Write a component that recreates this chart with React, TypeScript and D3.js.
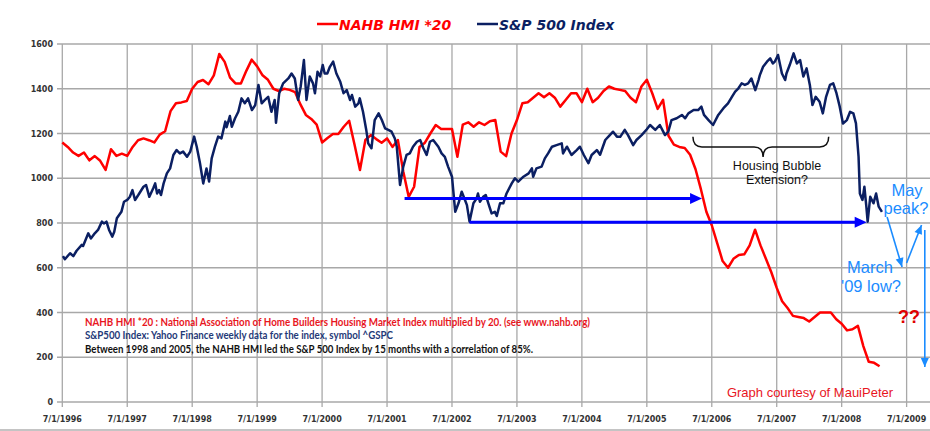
import * as d3 from 'd3'
import React from 'react'

// NAHB HMI * 20, monthly from July 1996
const nahbStartYear = 1996.5
const nahbValues = [
  1160, 1140, 1115, 1100, 1115, 1080, 1099, 1078, 1037, 1130,
  1100, 1110, 1100, 1140, 1170, 1178, 1170, 1160, 1195, 1210,
  1300, 1335, 1339, 1345, 1400, 1430, 1439, 1420, 1460, 1555,
  1520, 1450, 1424, 1424, 1480, 1530, 1500, 1460, 1440, 1400,
  1390, 1400, 1395, 1385, 1330, 1283, 1265, 1240, 1160, 1180,
  1198, 1198, 1230, 1257, 1150, 1037, 1171, 1193, 1175, 1159,
  1178, 1140, 1171, 1030, 917, 962, 1140, 1159, 1200, 1238,
  1220, 1220, 1220, 1096, 1240, 1250, 1230, 1250, 1238, 1255,
  1260, 1119, 1099, 1200, 1260, 1335, 1340, 1360, 1380, 1362,
  1380, 1360, 1320, 1350, 1380, 1380, 1340, 1400, 1340, 1360,
  1390, 1410, 1400, 1395, 1390, 1360, 1340, 1410, 1440, 1380,
  1310, 1350, 1190, 1150, 1140, 1135, 1105, 1040, 950, 850,
  790, 710, 630, 600, 640, 657, 660, 700, 770, 700,
  640, 580, 510, 450, 420, 385, 380, 375, 360, 380,
  400, 400, 400, 370, 350, 320, 325, 340, 250, 180,
  175, 160,
]

// S&P 500 weekly closes (decimal years)
const spxYears = [
  1996.51, 1996.54, 1996.62, 1996.67, 1996.72, 1996.80, 1996.82, 1996.90, 1996.94, 1997.00,
  1997.05, 1997.11, 1997.14, 1997.18, 1997.22, 1997.27, 1997.30, 1997.34, 1997.41, 1997.45,
  1997.50, 1997.54, 1997.58, 1997.62, 1997.67, 1997.75, 1997.79, 1997.84, 1997.90, 1997.93,
  1997.96, 1997.99, 1998.02, 1998.06, 1998.11, 1998.16, 1998.21, 1998.26, 1998.31, 1998.36,
  1998.42, 1998.47, 1998.53, 1998.57, 1998.62, 1998.67, 1998.72, 1998.76, 1998.80, 1998.85,
  1998.90, 1998.95, 1999.01, 1999.03, 1999.08, 1999.11, 1999.16, 1999.21, 1999.26, 1999.31,
  1999.36, 1999.42, 1999.47, 1999.52, 1999.57, 1999.62, 1999.67, 1999.72, 1999.77, 1999.79,
  1999.84, 1999.90, 1999.98, 2000.03, 2000.08, 2000.13, 2000.17, 2000.22, 2000.26, 2000.31,
  2000.36, 2000.39, 2000.43, 2000.47, 2000.51, 2000.54, 2000.58, 2000.62, 2000.67, 2000.72,
  2000.78, 2000.83, 2000.88, 2000.93, 2000.96, 2001.01, 2001.06, 2001.08, 2001.13, 2001.18,
  2001.21, 2001.26, 2001.31, 2001.37, 2001.42, 2001.47, 2001.52, 2001.57, 2001.62, 2001.65,
  2001.70, 2001.75, 2001.80, 2001.85, 2001.90, 2001.96, 2002.01, 2002.06, 2002.11, 2002.16,
  2002.21, 2002.29, 2002.34, 2002.39, 2002.44, 2002.50, 2002.55, 2002.60, 2002.65, 2002.70,
  2002.73, 2002.77, 2002.83, 2002.88, 2002.90, 2002.93, 2002.98, 2003.02, 2003.06, 2003.11,
  2003.16, 2003.19, 2003.24, 2003.29, 2003.34, 2003.42, 2003.47, 2003.52, 2003.60, 2003.68,
  2003.73, 2003.75, 2003.80, 2003.88, 2003.93, 2003.98, 2004.04, 2004.11, 2004.19, 2004.21,
  2004.27, 2004.34, 2004.42, 2004.47, 2004.53, 2004.60, 2004.65, 2004.73, 2004.78, 2004.86,
  2004.93, 2004.98, 2005.04, 2005.09, 2005.16, 2005.21, 2005.29, 2005.34, 2005.42, 2005.50,
  2005.55, 2005.63, 2005.70, 2005.78, 2005.83, 2005.88, 2005.96, 2006.04, 2006.09, 2006.14,
  2006.22, 2006.29, 2006.34, 2006.38, 2006.45, 2006.52, 2006.60, 2006.68, 2006.75, 2006.81,
  2006.86, 2006.91, 2006.96, 2007.01, 2007.06, 2007.11, 2007.17, 2007.22, 2007.24, 2007.29,
  2007.35, 2007.40, 2007.44, 2007.47, 2007.52, 2007.58, 2007.63, 2007.65, 2007.70, 2007.76,
  2007.81, 2007.86, 2007.91, 2007.96, 2008.01, 2008.05, 2008.10, 2008.16, 2008.21, 2008.26,
  2008.32, 2008.37, 2008.42, 2008.47, 2008.52, 2008.58, 2008.63, 2008.68, 2008.72, 2008.76,
  2008.78, 2008.82, 2008.85, 2008.88, 2008.90, 2008.94, 2008.99, 2009.03, 2009.07, 2009.12,
]
const spxValues = [
  652, 638, 665, 652, 676, 702, 697, 754, 731, 754,
  769, 806, 798, 806, 769, 739, 761, 821, 850, 895,
  903, 917, 947, 903, 925, 962, 970, 917, 955, 977,
  932, 947, 925, 977, 1022, 1044, 1104, 1126, 1111, 1119,
  1096, 1119, 1186, 1141, 1067, 977, 1044, 985, 1089, 1141,
  1186, 1178, 1253, 1228, 1278, 1230, 1268, 1297, 1357, 1335,
  1357, 1305, 1327, 1417, 1335, 1350, 1364, 1297, 1350, 1248,
  1380, 1424, 1446, 1468, 1446, 1350, 1409, 1528, 1350, 1455,
  1424, 1380, 1476, 1455, 1506, 1468, 1468, 1498, 1521, 1468,
  1431, 1380, 1394, 1350, 1372, 1320, 1335, 1357, 1297, 1216,
  1156, 1134, 1260, 1290, 1260, 1223, 1216, 1208, 1178, 1141,
  970, 1052, 1104, 1111, 1141, 1163, 1171, 1134, 1104, 1163,
  1171, 1141, 1111, 1096, 1052, 1007, 850, 888, 940, 903,
  880, 806, 888, 910, 932, 895, 917, 925, 888, 843,
  850, 831, 888, 888, 932, 977, 1000, 985, 1007, 1022,
  1044, 1007, 1044, 1052, 1089, 1111, 1141, 1148, 1156, 1111,
  1141, 1104, 1126, 1141, 1104, 1067, 1104, 1126, 1105, 1171,
  1193, 1208, 1186, 1185, 1216, 1193, 1148, 1171, 1193, 1219,
  1238, 1216, 1238, 1193, 1208, 1260, 1268, 1283, 1268, 1290,
  1305, 1305, 1320, 1283, 1260, 1238, 1283, 1313, 1335, 1364,
  1387, 1402, 1424, 1417, 1424, 1446, 1394, 1439, 1461, 1498,
  1521, 1536, 1513, 1521, 1551, 1468, 1439, 1468, 1506, 1558,
  1513, 1528, 1455, 1491, 1417, 1327, 1364, 1342, 1290, 1364,
  1417, 1424, 1380, 1320, 1245, 1260, 1297, 1290, 1245, 1096,
  932, 903, 962, 873, 806, 917, 888, 932, 873, 850,
]

const yTicks = [0, 200, 400, 600, 800, 1000, 1200, 1400, 1600]
const xTickYears = [1996, 1997, 1998, 1999, 2000, 2001, 2002, 2003, 2004, 2005, 2006, 2007, 2008, 2009]

// horizontal "support" arrows: [startYear, endYear, level]
const supportArrows = [
  [2001.77, 2006.35, 910],
  [2002.77, 2008.885, 803],
]
// forecast arrows (light blue): [x1, y1, x2, y2] in data units
const forecastArrows = [
  [2009.2, 827, 2009.43, 603],
  [2009.5, 621, 2009.73, 791],
  [2009.78, 769, 2009.78, 156],
]

const notes = [
  { text: 'NAHB HMI *20 : National Association of Home Builders Housing Market Index multiplied by 20. (see www.nahb.org)', color: '#e8161e', y: 326, w: 505 },
  { text: 'S&P500 Index: Yahoo Finance weekly data for the index, symbol ^GSPC', color: '#1f3a78', y: 338.5, w: 308 },
  { text: 'Between 1998 and 2005, the NAHB HMI led the S&P 500 Index by 15 months with a correlation of 85%.', color: '#111', y: 353, w: 448 },
]

const RED = '#ff0000'
const NAVY = '#0b1f62'
const LBLUE = '#1b8cff'
const GRID = '#a8a8a8'

const App: React.FC = () => {
  const width = 930
  const height = 431
  const x = d3.scaleLinear().domain([1996.5, 2009.86]).range([62.3, 930])
  const y = d3.scaleLinear().domain([0, 1600]).range([402, 44])

  const nahb = nahbValues.map((v, i) => [nahbStartYear + i / 12, v] as [number, number])
  const spx = spxYears.map((t, i) => [t, spxValues[i]] as [number, number])
  const line = d3.line<[number, number]>().x(d => x(d[0])).y(d => y(d[1]))

  const headPts = (x1: number, y1: number, x2: number, y2: number, len: number, half: number) => {
    const a = Math.atan2(y2 - y1, x2 - x1)
    const bx = x2 - len * Math.cos(a)
    const by = y2 - len * Math.sin(a)
    const px = -Math.sin(a) * half
    const py = Math.cos(a) * half
    return `${x2},${y2} ${bx + px},${by + py} ${bx - px},${by - py}`
  }

  const braceL = x(2006.21), braceR = x(2008.30), braceM = x(2007.29)
  const bTop = y(1185), bMid = y(1140), bTip = y(1095)

  return (
    <svg width={width} height={height} style={{ position: 'absolute', left: 0, top: 0, background: '#fff' }}
      fontFamily="'DejaVu Sans', Verdana, sans-serif">
      {/* grid */}
      {yTicks.map(t => (
        <g key={'y' + t}>
          <line x1={57} x2={width} y1={y(t)} y2={y(t)} stroke={GRID} strokeWidth={1.3} />
          <text x={53} y={y(t) + 3} textAnchor="end" fontSize={8} fontWeight="bold" fill="#333">{t}</text>
        </g>
      ))}
      {xTickYears.map(yr => (
        <g key={'x' + yr}>
          <line x1={x(yr + 0.5)} x2={x(yr + 0.5)} y1={y(1600)} y2={y(0) + 5} stroke={GRID} strokeWidth={1.3} />
          <text x={x(yr + 0.5)} y={422} textAnchor="middle" fontSize={8} fontWeight="bold" fill="#333">{`7/1/${yr}`}</text>
        </g>
      ))}
      <line x1={0} x2={width} y1={430} y2={430} stroke="#b0b0b0" strokeWidth={1.3} />

      {/* series */}
      <path d={line(nahb) || ''} fill="none" stroke={RED} strokeWidth={2.5} strokeLinejoin="round" />
      <path d={line(spx) || ''} fill="none" stroke={NAVY} strokeWidth={2.5} strokeLinejoin="round" />

      {/* support arrows */}
      {supportArrows.map(([a, b, v], i) => (
        <g key={'sa' + i}>
          <line x1={x(a)} x2={x(b) - 8} y1={y(v)} y2={y(v)} stroke="#0000ff" strokeWidth={3} />
          <polygon points={headPts(x(a), y(v), x(b), y(v), 12, 5.5)} fill="#0000ff" />
        </g>
      ))}

      {/* housing bubble brace */}
      <path d={`M${braceL},${bTop} Q${braceL},${bMid} ${braceL + 9},${bMid} L${braceM - 9},${bMid} Q${braceM},${bMid} ${braceM},${bTip} Q${braceM},${bMid} ${braceM + 9},${bMid} L${braceR - 9},${bMid} Q${braceR},${bMid} ${braceR},${bTop}`}
        fill="none" stroke="#111" strokeWidth={1.5} />
      <text x={777} y={169.5} textAnchor="middle" fontFamily="'Liberation Sans', Arial, sans-serif" fontSize={12.5} fill="#111">Housing Bubble</text>
      <text x={777} y={184} textAnchor="middle" fontFamily="'Liberation Sans', Arial, sans-serif" fontSize={12.5} fill="#111">Extension?</text>

      {/* forecast annotations */}
      {forecastArrows.map(([a, b, c, d], i) => (
        <g key={'fa' + i}>
          <line x1={x(a)} y1={y(b)} x2={x(c)} y2={y(d)} stroke={LBLUE} strokeWidth={1.6} />
          <polygon points={headPts(x(a), y(b), x(c), y(d), 9, 4)} fill={LBLUE} />
        </g>
      ))}
      <g fontFamily="'Liberation Sans', Arial, sans-serif" fontSize={16.5} fill={LBLUE} textAnchor="middle">
        <text x={907} y={196}>May</text>
        <text x={906} y={214}>peak?</text>
        <text x={870} y={273}>March</text>
        <text x={871} y={292}>'09 low?</text>
      </g>
      <text x={909} y={323} textAnchor="middle" fontFamily="'Liberation Sans', Arial, sans-serif" fontSize={18} fontWeight="bold" fill="#e00000">??</text>
      <text x={810} y={397} textAnchor="middle" fontFamily="'Liberation Sans', Arial, sans-serif" fontSize={13} fill="#e8161e">Graph courtesy of MauiPeter</text>

      {/* notes */}
      {notes.map((n, i) => (
        <text key={'n' + i} x={85} y={n.y} fontFamily="Lato, 'Open Sans', sans-serif" fontSize={11} fontWeight="bold"
          fill={n.color} textLength={n.w} lengthAdjust="spacingAndGlyphs">{n.text}</text>
      ))}

      {/* legend */}
      <g fontSize={14} fontWeight="bold" fontStyle="italic">
        <line x1={317} x2={338} y1={24} y2={24} stroke={RED} strokeWidth={2.5} />
        <text x={339} y={30} fill={RED}>NAHB HMI *20</text>
        <line x1={477} x2={498} y1={24} y2={24} stroke={NAVY} strokeWidth={2.5} />
        <text x={499} y={30} fill={NAVY}>S&amp;P 500 Index</text>
      </g>
    </svg>
  )
}

export default App
